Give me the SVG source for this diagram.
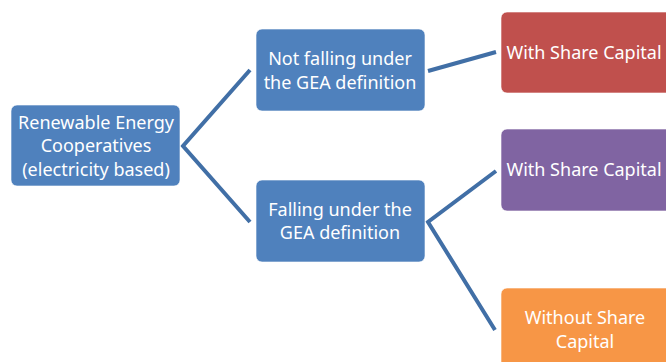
<svg xmlns="http://www.w3.org/2000/svg" width="666" height="362" viewBox="0 0 666 362">
<style>
.box{stroke:#ffffff;stroke-width:1;stroke-opacity:0.6}
.t{font-family:"Noto Sans","Open Sans",sans-serif;font-size:18px;fill:#ffffff;text-anchor:middle}
.c{fill:none;stroke:#416FA6;stroke-width:4;stroke-linejoin:miter}
</style>
<rect width="666" height="362" fill="#ffffff"/>
<g id="connectors">
<polyline class="c" points="250,70 183,146 250,222"/>
<line class="c" x1="428" y1="71" x2="496" y2="52"/>
<polyline class="c" points="496,171 428,222 495,330"/>
</g>
<g id="root">
<rect class="box" x="11" y="105" width="169" height="81" rx="6" fill="#4F81BD"/>
<text class="t" x="96" y="129">Renewable Energy</text>
<text class="t" x="96" y="152">Cooperatives</text>
<text class="t" x="96" y="176">(electricity based)</text>
</g>
<g id="notfalling">
<rect class="box" x="256" y="29" width="169" height="82" rx="6" fill="#4F81BD"/>
<text class="t" x="340" y="65">Not falling under</text>
<text class="t" x="340" y="89">the GEA definition</text>
</g>
<g id="falling">
<rect class="box" x="256" y="180" width="169" height="82" rx="6" fill="#4F81BD"/>
<text class="t" x="340" y="216">Falling under the</text>
<text class="t" x="340" y="239">GEA definition</text>
</g>
<g id="red">
<rect class="box" x="501" y="12" width="175" height="81" rx="6" fill="#C0504D"/>
<text class="t" x="584" y="59">With Share Capital</text>
</g>
<g id="purple">
<rect class="box" x="501" y="129" width="175" height="82" rx="6" fill="#8064A2"/>
<text class="t" x="584" y="176">With Share Capital</text>
</g>
<g id="orange">
<rect class="box" x="501" y="288" width="175" height="90" rx="6" fill="#F79646"/>
<text class="t" x="585" y="324">Without Share</text>
<text class="t" x="585" y="348">Capital</text>
</g>
</svg>
